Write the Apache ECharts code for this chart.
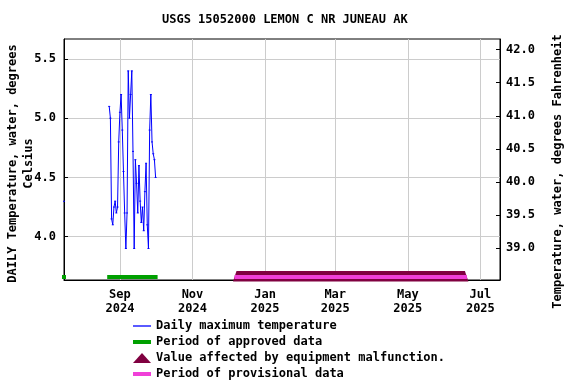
<!DOCTYPE html>
<html><head><meta charset="utf-8">
<script src="https://cdn.jsdelivr.net/npm/echarts@6/dist/echarts.min.js"></script>
<style>html,body{margin:0;padding:0;background:#fff}#c{width:576px;height:384px}</style>
</head><body><div id="c"></div>
<script>
const titleText = 'USGS 15052000 LEMON C NR JUNEAU AK';

// Daily maximum temperature (deg C)
const tempDates = [
 '2024-07-16','2024-07-17',
 '2024-08-23','2024-08-24','2024-08-25','2024-08-26','2024-08-27','2024-08-28','2024-08-29','2024-08-30','2024-08-31',
 '2024-09-01','2024-09-02','2024-09-03','2024-09-04','2024-09-05','2024-09-06','2024-09-07','2024-09-08','2024-09-09','2024-09-10',
 '2024-09-11','2024-09-12','2024-09-13','2024-09-14','2024-09-15','2024-09-16','2024-09-17','2024-09-18','2024-09-19','2024-09-20',
 '2024-09-21','2024-09-22','2024-09-23','2024-09-24','2024-09-25','2024-09-26','2024-09-27','2024-09-28','2024-09-29','2024-09-30',
 '2024-10-01'
];
const tempValues = [
 4.30, null,
 5.10,5.00,4.15,4.10,4.25,4.30,4.20,4.25,4.80,
 5.05,5.20,4.90,4.55,4.20,3.90,4.20,5.40,5.00,5.20,
 5.40,4.72,3.90,4.65,4.45,4.20,4.60,4.30,4.12,4.25,
 4.05,4.38,4.62,4.10,3.90,4.90,5.20,4.80,4.70,4.65,
 4.50
];

// Periods [start, end]
const approvedPeriods = [['2024-07-16','2024-07-16'], ['2024-08-23','2024-10-01']];
const malfunctionPeriods = [['2024-12-08','2025-06-18']];
const provisionalPeriods = [['2024-12-08','2025-06-18']];

// Axes
const xRange = ['2024-07-16T00:00:00', '2025-07-17T12:00:00'];
const xTickDates = ['2024-09-01','2024-11-01','2025-01-01','2025-03-01','2025-05-01','2025-07-01'];
const xTickLabels = ['Sep\n2024','Nov\n2024','Jan\n2025','Mar\n2025','May\n2025','Jul\n2025'];
const leftRange = [3.634, 5.669];
const leftTicks = [4.0, 4.5, 5.0, 5.5];
const rightRange = [38.52, 42.16];
const rightTicks = [39.0, 39.5, 40.0, 40.5, 41.0, 41.5, 42.0];

const seriesNames = ['Daily maximum temperature','Period of approved data','Value affected by equipment malfunction.','Period of provisional data'];
const colors = {temp:'#0000ff', approved:'#00a000', malf:'#800040', prov:'#f040d8'};

const ts = s => Date.parse(s.length === 10 ? s + 'T00:00:00Z' : s + 'Z');
const FONT = 'DejaVu Sans Mono';
const txt = {fontFamily: FONT, fontWeight: 'bold', fontSize: 12, color: '#000'};

function periodRender(kind) {
  return function (params, api) {
    const x0 = api.coord([api.value(0), leftRange[0]])[0];
    const x1 = api.coord([api.value(1), leftRange[0]])[0];
    const cs = params.coordSys;
    const yb = cs.y + cs.height;
    const fill = api.visual('color');
    if (kind === 'tri') {
      return {type: 'polygon', shape: {points: [[x0, yb - 9], [x1, yb - 9], [x1 + 3.5, yb + 1.5], [x0 - 3.5, yb + 1.5]]}, style: {fill}};
    }
    return {type: 'rect', shape: {x: x0 - 2, y: yb - 5, width: x1 - x0 + 4, height: 4}, style: {fill}};
  };
}

const chart = echarts.init(document.getElementById('c'), null, {renderer: 'canvas'});
const barIcon = 'path://M0,0H18V4H0Z';
const thinIcon = 'path://M0,0H18V1.3H0Z';
const xTickTs = xTickDates.map(ts);
chart.setOption({
  animation: false,
  backgroundColor: '#fff',
  title: {text: titleText, left: 162, top: 14, padding: 0, textStyle: Object.assign({}, txt, {fontSize: 12})},
  grid: {left: 64, right: 76, top: 39, bottom: 104, containLabel: false, outerBoundsMode: 'none',
         show: true, borderColor: '#000', borderWidth: 1, backgroundColor: 'transparent'},
  legend: {
    orient: 'vertical', left: 128, top: 315, height: 120, itemWidth: 18, itemHeight: 10, itemGap: 4,
    textStyle: Object.assign({}, txt, {lineHeight: 12}),
    selectedMode: false,
    data: [
      {name: seriesNames[0], icon: thinIcon},
      {name: seriesNames[1], icon: barIcon},
      {name: seriesNames[2], icon: 'triangle'},
      {name: seriesNames[3], icon: barIcon}
    ]
  },
  xAxis: {
    type: 'value', min: ts(xRange[0]), max: ts(xRange[1]),
    axisLine: {show: true, lineStyle: {color: '#000'}},
    axisTick: {show: false, customValues: xTickTs},
    axisLabel: Object.assign({customValues: xTickTs, margin: 8, lineHeight: 14,
      formatter: v => { const i = xTickTs.indexOf(v); return i >= 0 ? xTickLabels[i] : ''; }}, txt),
    splitLine: {show: true, lineStyle: {color: '#cccccc', width: 1}}
  },
  yAxis: [
    {
      type: 'value', min: leftRange[0], max: leftRange[1], position: 'left',
      name: 'DAILY Temperature, water, degrees\nCelsius', nameLocation: 'middle', nameRotate: 90, nameGap: 27,
      nameMoveOverlap: false,
      nameTextStyle: Object.assign({}, txt, {lineHeight: 16, padding: [0, 8, 0, 0]}),
      axisLine: {show: true, lineStyle: {color: '#000'}},
      axisTick: {show: true, inside: true, length: 4, lineStyle: {color: '#000'}, customValues: leftTicks},
      axisLabel: Object.assign({customValues: leftTicks, margin: 8, formatter: v => v.toFixed(1)}, txt),
      splitLine: {show: true, lineStyle: {color: '#cccccc', width: 1}}
    },
    {
      type: 'value', min: rightRange[0], max: rightRange[1], position: 'right',
      name: 'Temperature, water, degrees Fahrenheit', nameLocation: 'middle', nameRotate: 90, nameGap: 52,
      nameTextStyle: Object.assign({}, txt, {padding: [0, 24, 0, 0]}),
      axisLine: {show: true, lineStyle: {color: '#000'}},
      axisTick: {show: true, inside: true, length: 4, lineStyle: {color: '#000'}, customValues: rightTicks},
      axisLabel: Object.assign({customValues: rightTicks, margin: 6, formatter: v => v.toFixed(1)}, txt),
      splitLine: {show: false}
    }
  ],
  series: [
    {
      name: seriesNames[1], type: 'custom', renderItem: periodRender('bar'),
      itemStyle: {color: colors.approved}, encode: {x: [0, 1]}, clip: false, z: 3,
      data: approvedPeriods.map(p => [ts(p[0]), ts(p[1])])
    },
    {
      name: seriesNames[2], type: 'custom', renderItem: periodRender('tri'),
      itemStyle: {color: colors.malf}, encode: {x: [0, 1]}, clip: false, z: 3,
      data: malfunctionPeriods.map(p => [ts(p[0]), ts(p[1])])
    },
    {
      name: seriesNames[3], type: 'custom', renderItem: periodRender('bar'),
      itemStyle: {color: colors.prov}, encode: {x: [0, 1]}, clip: false, z: 4,
      data: provisionalPeriods.map(p => [ts(p[0]), ts(p[1])])
    },
    {
      name: seriesNames[0], type: 'line', yAxisIndex: 0, z: 5,
      data: tempDates.map((d, i) => [ts(d), tempValues[i]]),
      connectNulls: false,
      symbol: 'rect', symbolSize: [2, 1], showSymbol: true, showAllSymbol: true,
      itemStyle: {color: colors.temp},
      lineStyle: {color: colors.temp, width: 1},
      emphasis: {disabled: true}
    }
  ]
});
</script></body></html>
